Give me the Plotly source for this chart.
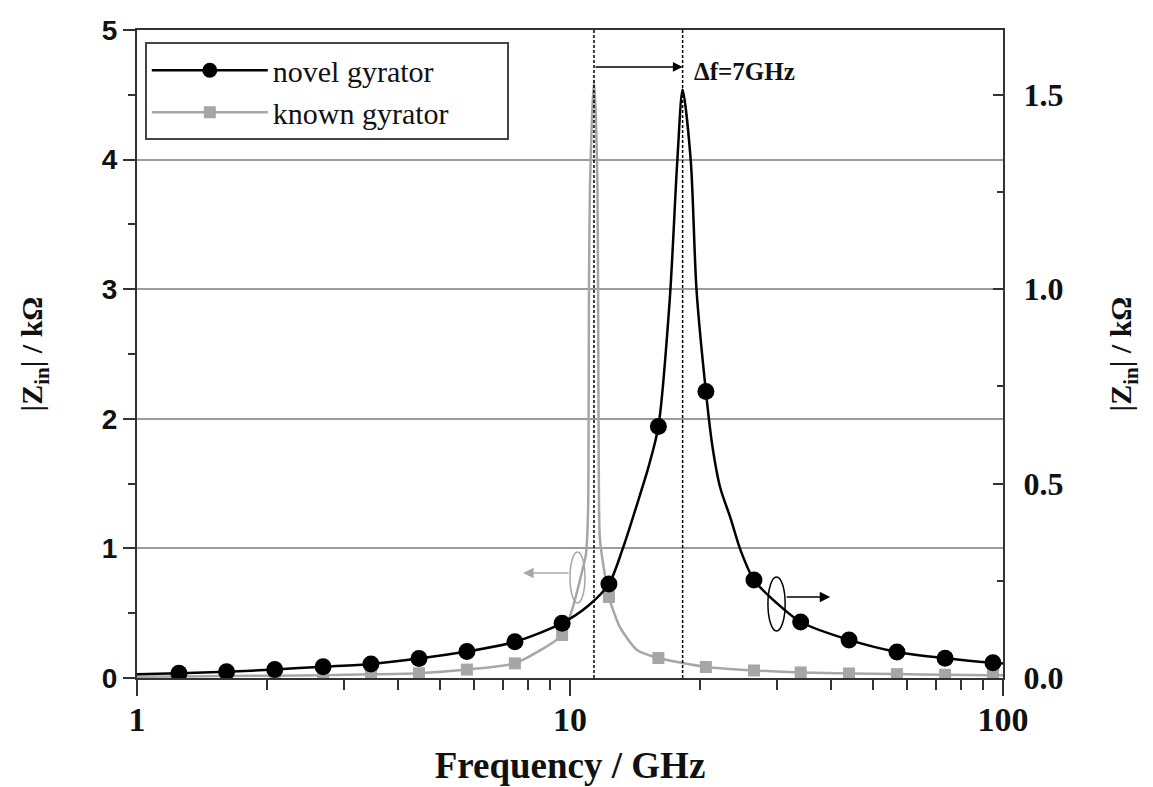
import math
import plotly.graph_objects as go

# ---------------- data ----------------
# novel gyrator: |Zin| in kOhm on the right axis
novel_freq = [1.0, 1.25, 1.61, 2.08, 2.69, 3.47, 4.48, 5.78, 7.46, 9.59, 11.0, 12.3,
              13.25, 14.5, 15.2, 16.0, 17.0, 17.7, 18.2, 19.0, 19.6, 20.6, 21.3, 22.2, 23.5,
              24.8, 26.6, 30.0, 34.1, 44.1, 56.9, 73.5, 94.8, 100.0]
novel_z = [0.0095, 0.012, 0.016, 0.022, 0.029, 0.036, 0.050, 0.068, 0.093, 0.141, 0.185, 0.242,
           0.334, 0.47, 0.545, 0.647, 0.975, 1.333, 1.513, 1.333, 0.997, 0.737, 0.60, 0.492, 0.41,
           0.327, 0.252, 0.193, 0.144, 0.098, 0.067, 0.051, 0.039, 0.037]

# known gyrator: |Zin| in kOhm on the left axis
known_freq = [1.0, 1.25, 1.61, 2.08, 2.69, 3.47, 4.48, 5.78, 7.46, 9.59, 10.16, 10.55,
              10.89, 11.01, 11.04, 11.06, 11.12, 11.25, 11.36, 11.47, 11.57, 11.61, 11.64,
              11.67, 11.73, 12.3, 13.05, 14.28, 16.0, 20.6, 26.6, 34.1, 44.1, 56.9,
              73.5, 94.8, 100.0]
known_z = [0.010, 0.012, 0.015, 0.018, 0.022, 0.028, 0.036, 0.065, 0.113, 0.332, 0.55, 0.76,
           0.96, 1.3, 2.0, 3.0, 3.8, 4.35, 4.61, 4.35, 3.8, 3.0, 2.0,
           1.3, 1.06, 0.625, 0.39, 0.216, 0.154, 0.085, 0.058, 0.043, 0.035, 0.030,
           0.025, 0.022, 0.021]

# symbol positions
marker_freq = [1.25, 1.61, 2.08, 2.69, 3.47, 4.48, 5.78, 7.46, 9.59, 12.3,
               16.0, 20.6, 26.6, 34.1, 44.1, 56.9, 73.5, 94.8]
novel_marker_z = [0.012, 0.016, 0.022, 0.029, 0.036, 0.050, 0.068, 0.093, 0.141, 0.242,
                  0.647, 0.737, 0.252, 0.144, 0.098, 0.067, 0.051, 0.039]
known_marker_z = [0.012, 0.015, 0.018, 0.022, 0.028, 0.036, 0.065, 0.113, 0.332, 0.625,
                  0.154, 0.085, 0.058, 0.043, 0.035, 0.030, 0.025, 0.022]

series_names = ["novel gyrator", "known gyrator"]
peak_known = 11.36
peak_novel = 18.2
delta_label = "Δf=7GHz"

x_tickvals = [1, 10, 100]
x_ticktext = ["1", "10", "100"]
x_minor = [2, 3, 4, 5, 6, 7, 8, 9, 20, 30, 40, 50, 60, 70, 80, 90]
y_left_ticks = [0, 1, 2, 3, 4, 5]
y_right_ticks = [0.0, 0.5, 1.0, 1.5]
y_right_text = ["0.0", "0.5", "1.0", "1.5"]

# ---------------- style ----------------
SERIF = "Liberation Serif"
SANS = "Liberation Sans"
GRAY = "#a6a6a6"
AX = "#333333"
NBSP = "\u00a0"

fig = go.Figure()

fig.add_trace(go.Scatter(x=known_freq, y=known_z, mode="lines",
                         line=dict(color=GRAY, width=2.5, shape="spline", smoothing=0.6),
                         showlegend=False, hoverinfo="skip", yaxis="y"))
fig.add_trace(go.Scatter(x=marker_freq, y=known_marker_z, mode="markers",
                         marker=dict(symbol="square", size=12, color=GRAY),
                         showlegend=False, yaxis="y"))
fig.add_trace(go.Scatter(x=novel_freq, y=novel_z, mode="lines",
                         line=dict(color="black", width=2.5, shape="spline", smoothing=0.8),
                         showlegend=False, hoverinfo="skip", yaxis="y2"))
fig.add_trace(go.Scatter(x=marker_freq, y=novel_marker_z, mode="markers",
                         marker=dict(symbol="circle", size=17, color="black"),
                         showlegend=False, yaxis="y2"))

# legend entries
fig.add_trace(go.Scatter(x=[None], y=[None], mode="lines+markers",
                         name=series_names[0] + NBSP * 7,
                         line=dict(color="black", width=2.5),
                         marker=dict(symbol="circle", size=15, color="black"),
                         legendrank=1, yaxis="y2"))
fig.add_trace(go.Scatter(x=[None], y=[None], mode="lines+markers",
                         name=series_names[1] + NBSP * 7,
                         line=dict(color=GRAY, width=2.5),
                         marker=dict(symbol="square", size=12, color=GRAY),
                         legendrank=2, yaxis="y"))

# dashed verticals at the resonances
for f in (peak_known, peak_novel):
    fig.add_shape(type="line", xref="x", yref="paper", x0=f, x1=f, y0=0, y1=1,
                  line=dict(color="black", width=1.5, dash="3px,2px"))

# delta-f arrow and label
fig.add_annotation(x=math.log10(peak_novel), y=4.715, ax=math.log10(peak_known), ay=4.715,
                   xref="x", yref="y", axref="x", ayref="y", text="", showarrow=True,
                   arrowhead=2, arrowsize=1.3, arrowwidth=1.5, arrowcolor="black", standoff=0)
fig.add_annotation(x=math.log10(peak_novel) + 0.021, y=4.676, xref="x", yref="y",
                   text="<b>" + delta_label + "</b>", showarrow=False, xanchor="left",
                   yanchor="middle", font=dict(family=SERIF, size=25, color="#111"))

# ellipses and axis-pointer arrows
fig.add_shape(type="circle", xref="x", yref="y", x0=10.0, x1=10.83, y0=0.579, y1=0.972,
              line=dict(color=GRAY, width=1.5))
fig.add_annotation(x=math.log10(7.79), y=0.81, ax=math.log10(10.0), ay=0.81,
                   xref="x", yref="y", axref="x", ayref="y", text="", showarrow=True,
                   arrowhead=2, arrowsize=1.4, arrowwidth=1.5, arrowcolor=GRAY, standoff=0)
fig.add_shape(type="circle", xref="x", yref="y", x0=28.65, x1=31.4, y0=0.363, y1=0.78,
              line=dict(color="black", width=1.5))
fig.add_annotation(x=math.log10(39.9), y=0.625, ax=math.log10(31.4), ay=0.625,
                   xref="x", yref="y", axref="x", ayref="y", text="", showarrow=True,
                   arrowhead=2, arrowsize=1.4, arrowwidth=1.5, arrowcolor="black", standoff=0)

ytitle = "<b>|Z<sub>in</sub>| / kΩ</b>"

fig.update_layout(
    width=1153, height=787,
    margin=dict(l=137, r=150, t=30, b=109, autoexpand=False),
    paper_bgcolor="white", plot_bgcolor="white",
    showlegend=True,
    legend=dict(x=0.009, y=0.981, xanchor="left", yanchor="top", bgcolor="white",
                bordercolor="#444", borderwidth=2, font=dict(family=SERIF, size=30, color="#111"),
                itemwidth=116, tracegroupgap=0),
    xaxis=dict(type="log", range=[0, 2], showline=True, linecolor=AX, linewidth=2, mirror=True,
               automargin=False,
               ticks="outside", ticklen=16, tickwidth=2, tickcolor=AX,
               tickmode="array", tickvals=x_tickvals, ticktext=x_ticktext,
               ticklabelstandoff=-6,
               tickfont=dict(family=SERIF, size=34, color="#111", weight="bold"),
               minor=dict(tickmode="array", tickvals=x_minor, ticks="outside", ticklen=10,
                          tickwidth=2, tickcolor=AX, showgrid=False),
               showgrid=False, zeroline=False,
               title=dict(text="Frequency / GHz", standoff=15,
                          font=dict(family=SERIF, size=37, color="#111", weight="bold"))),
    yaxis=dict(range=[0, 5], tickmode="array", tickvals=y_left_ticks,
               automargin=False,
               showline=True, linecolor=AX, linewidth=2,
               ticks="outside", ticklen=12, tickwidth=2, tickcolor=AX,
               tickfont=dict(family=SANS, size=28, color="#111", weight="bold"),
               minor=dict(dtick=0.5, ticks="outside", ticklen=7, tickwidth=2, tickcolor=AX,
                          showgrid=False),
               showgrid=True, gridcolor="#9c9c9c", gridwidth=1.5, zeroline=False,
               title=dict(text=ytitle, standoff=50,
                          font=dict(family=SERIF, size=30, color="#111"))),
    yaxis2=dict(range=[0, 5 / 3], overlaying="y", side="right", tickmode="array",
                automargin=False,
                tickvals=y_right_ticks, ticktext=y_right_text,
                showline=True, linecolor=AX, linewidth=2,
                ticks="inside", ticklen=10, tickwidth=2, tickcolor=AX,
                ticklabelstandoff=12,
                tickfont=dict(family=SERIF, size=32, color="#111", weight="bold"),
                minor=dict(dtick=0.25, ticks="inside", ticklen=6, tickwidth=2, tickcolor=AX,
                           showgrid=False),
                showgrid=False, zeroline=False,
                title=dict(text=ytitle, standoff=48,
                           font=dict(family=SERIF, size=30, color="#111"))),
)

fig.write_html("out.html")
